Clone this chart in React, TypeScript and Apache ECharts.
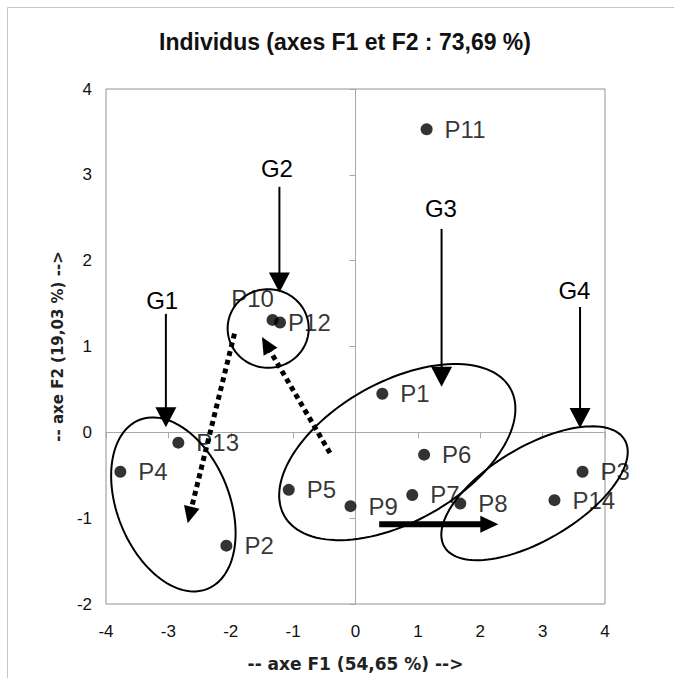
import React, { useEffect, useRef } from "react";
import * as echarts from "echarts";

// ---- data ----
const pointNames = ["P1", "P2", "P3", "P4", "P5", "P6", "P7", "P8", "P9", "P10", "P11", "P12", "P13", "P14"];
const pointX = [0.43, -2.07, 3.64, -3.77, -1.07, 1.1, 0.91, 1.68, -0.08, -1.33, 1.14, -1.21, -2.84, 3.19];
const pointY = [0.45, -1.32, -0.46, -0.46, -0.67, -0.26, -0.73, -0.83, -0.86, 1.31, 3.53, 1.28, -0.12, -0.79];

const groupNames = ["G1", "G2", "G3", "G4"];
const groupArrowX = [-3.04, -1.22, 1.38, 3.6];
const groupArrowFrom = [1.38, 2.86, 2.37, 1.46];
const groupArrowTo = [0.06, 1.63, 0.53, 0.05];
const groupLabelX = [-3.1, -1.26, 1.37, 3.51];
const groupLabelY = [1.54, 3.07, 2.61, 1.65];

// ellipses: centre (data), semi-axes (in x-axis units), rotation (deg)
const ellipseCX = [-2.92, -1.4, 0.67, 2.87];
const ellipseCY = [-0.84, 1.21, -0.23, -0.71];
const ellipseA = [1.46, 0.65, 2.08, 1.68];
const ellipseB = [0.9, 0.63, 1.12, 0.75];
const ellipseAngle = [-68, 0, 29.4, 30.7];

// dotted movement arrows
const moveFromX = [-1.94, -0.41];
const moveFromY = [1.15, -0.24];
const moveToX = [-2.69, -1.5];
const moveToY = [-1.06, 1.11];

// thick horizontal arrow
const shiftFrom = [0.38, -1.07];
const shiftTo = [2.29, -1.07];

const xTicks = { min: -4, max: 4, interval: 1 };
const yTicks = { min: -2, max: 4, interval: 1 };

const TITLE = "Individus (axes F1 et F2 : 73,69 %)";
const XNAME = "-- axe F1 (54,65 %) -->";
const YNAME = "-- axe F2 (19,03 %) -->";

const LABEL_FONT = "Liberation Sans";

function makeArrow(opts: { width: number; dash?: number[]; headLen: number; headW: number; labels?: boolean }) {
  return (params: any, api: any) => {
    const p1 = api.coord([api.value(0), api.value(1)]);
    const p2 = api.coord([api.value(2), api.value(3)]);
    const dx = p2[0] - p1[0];
    const dy = p2[1] - p1[1];
    const len = Math.hypot(dx, dy) || 1;
    const ux = dx / len;
    const uy = dy / len;
    const nx = -uy;
    const ny = ux;
    const bx = p2[0] - ux * opts.headLen;
    const by = p2[1] - uy * opts.headLen;
    const hw = opts.headW / 2;
    const children: any[] = [
      {
        type: "line",
        shape: { x1: p1[0], y1: p1[1], x2: bx + ux, y2: by + uy },
        style: { stroke: "#000", lineWidth: opts.width, lineDash: opts.dash || null, lineCap: "butt", fill: null },
      },
      {
        type: "polygon",
        shape: { points: [[p2[0], p2[1]], [bx + nx * hw, by + ny * hw], [bx - nx * hw, by - ny * hw]] },
        style: { fill: "#000", stroke: null },
      },
    ];
    if (opts.labels) {
      const lp = api.coord([api.value(4), api.value(5)]);
      children.push({
        type: "text",
        x: lp[0],
        y: lp[1],
        style: {
          text: groupNames[params.dataIndex],
          fontSize: 24,
          fontFamily: LABEL_FONT,
          fill: "#000",
          align: "center",
          verticalAlign: "middle",
          textAlign: "center",
          textVerticalAlign: "middle",
        },
      });
    }
    return { type: "group", children };
  };
}

function renderEllipse(params: any, api: any) {
  const c = api.coord([api.value(0), api.value(1)]);
  const unit = api.size([1, 0])[0];
  const a = api.value(2) * unit;
  const b = api.value(3) * unit;
  const th = (api.value(4) * Math.PI) / 180;
  const pts: number[][] = [];
  const n = 120;
  for (let k = 0; k < n; k++) {
    const t = (k / n) * Math.PI * 2;
    const ex = a * Math.cos(t);
    const ey = b * Math.sin(t);
    pts.push([c[0] + ex * Math.cos(th) - ey * Math.sin(th), c[1] - (ex * Math.sin(th) + ey * Math.cos(th))]);
  }
  return { type: "polygon", shape: { points: pts }, style: { fill: null, stroke: "#000", lineWidth: 2 } };
}

export default function App() {
  const ref = useRef<HTMLDivElement>(null);
  useEffect(() => {
    if (!ref.current) return;
    const chart = echarts.init(ref.current, null, { renderer: "svg" });
    const axisGray = "#a8a8a8";
    const tickLabel = { fontSize: 17, color: "#111", fontFamily: LABEL_FONT, showMinLabel: true, showMaxLabel: true };
    chart.setOption({
      animation: false,
      backgroundColor: "#fff",
      grid: {
        left: 106,
        right: 69,
        top: 89,
        bottom: 74,
        show: true,
        borderColor: "#909090",
        borderWidth: 1,
        backgroundColor: "transparent",
        containLabel: false,
        outerBoundsMode: "none",
      },
      graphic: [
        {
          type: "rect",
          silent: true,
          shape: { x: 7.5, y: 7.5, width: 720, height: 720 },
          style: { fill: null, stroke: "#c4c4c4", lineWidth: 1 },
        },
        {
          type: "text",
          silent: true,
          x: 345,
          y: 42,
          style: {
            text: TITLE,
            fontSize: 23,
            fontWeight: "bold",
            fontFamily: LABEL_FONT,
            fill: "#111",
            align: "center",
            verticalAlign: "middle",
            textAlign: "center",
            textVerticalAlign: "middle",
          },
        },
      ],
      xAxis: [
        {
          type: "value",
          ...xTicks,
          position: "bottom",
          axisLine: { show: false, onZero: false },
          axisTick: { show: false },
          splitLine: { show: false },
          axisLabel: { margin: 19, ...tickLabel },
          name: XNAME,
          nameLocation: "middle",
          nameGap: 51,
          nameTextStyle: { fontFamily: "DejaVu Sans", fontWeight: "bold", fontSize: 17, color: "#222" },
        },
        {
          type: "value",
          ...xTicks,
          position: "top",
          axisLine: { show: true, onZero: true, lineStyle: { color: axisGray, width: 1 } },
          axisTick: { show: true, inside: true, length: 6, lineStyle: { color: axisGray, width: 1 } },
          axisLabel: { show: false },
          splitLine: { show: false },
        },
      ],
      yAxis: [
        {
          type: "value",
          ...yTicks,
          position: "left",
          axisLine: { show: false, onZero: false },
          axisTick: { show: false },
          splitLine: { show: false },
          axisLabel: { margin: 14, ...tickLabel },
          name: YNAME,
          nameLocation: "middle",
          nameGap: 41,
          nameTextStyle: { fontFamily: "DejaVu Sans", fontWeight: "bold", fontSize: 15, color: "#222" },
        },
        {
          type: "value",
          ...yTicks,
          position: "right",
          axisLine: { show: true, onZero: true, lineStyle: { color: axisGray, width: 1 } },
          axisTick: { show: true, inside: true, length: 6, lineStyle: { color: axisGray, width: 1 } },
          axisLabel: { show: false },
          splitLine: { show: false },
        },
      ],
      series: [
        {
          type: "custom",
          name: "ellipses",
          xAxisIndex: 0,
          yAxisIndex: 0,
          z: 2,
          silent: true,
          renderItem: renderEllipse,
          data: ellipseCX.map((cx, i) => [cx, ellipseCY[i], ellipseA[i], ellipseB[i], ellipseAngle[i]]),
        },
        {
          type: "custom",
          name: "groups",
          xAxisIndex: 0,
          yAxisIndex: 0,
          z: 3,
          silent: true,
          renderItem: makeArrow({ width: 2, headLen: 20, headW: 21, labels: true }),
          data: groupArrowX.map((x, i) => [x, groupArrowFrom[i], x, groupArrowTo[i], groupLabelX[i], groupLabelY[i]]),
        },
        {
          type: "custom",
          name: "moves",
          xAxisIndex: 0,
          yAxisIndex: 0,
          z: 3,
          silent: true,
          renderItem: makeArrow({ width: 5, dash: [5, 4], headLen: 17, headW: 16 }),
          data: moveFromX.map((x, i) => [x, moveFromY[i], moveToX[i], moveToY[i]]),
        },
        {
          type: "custom",
          name: "shift",
          xAxisIndex: 0,
          yAxisIndex: 0,
          z: 3,
          silent: true,
          renderItem: makeArrow({ width: 6, headLen: 18, headW: 17 }),
          data: [[shiftFrom[0], shiftFrom[1], shiftTo[0], shiftTo[1]]],
        },
        {
          type: "scatter",
          name: "individus",
          xAxisIndex: 0,
          yAxisIndex: 0,
          z: 4,
          symbol: "circle",
          symbolSize: 12,
          itemStyle: { color: "#000" },
          label: {
            show: true,
            position: "right",
            distance: 12,
            formatter: "{b}",
            fontSize: 24,
            fontFamily: LABEL_FONT,
            color: "#000",
          },
          data: pointNames.map((n, i) => {
            const item: any = { name: n, value: [pointX[i], pointY[i]] };
            if (n === "P10") item.label = { position: "top", distance: 3, offset: [-20, 0] };
            if (n === "P12") item.label = { distance: 2 };
            return item;
          }),
        },
      ],
    });
    return () => chart.dispose();
  }, []);
  return <div ref={ref} style={{ position: "absolute", left: 0, top: 0, width: 674, height: 678 }} />;
}
